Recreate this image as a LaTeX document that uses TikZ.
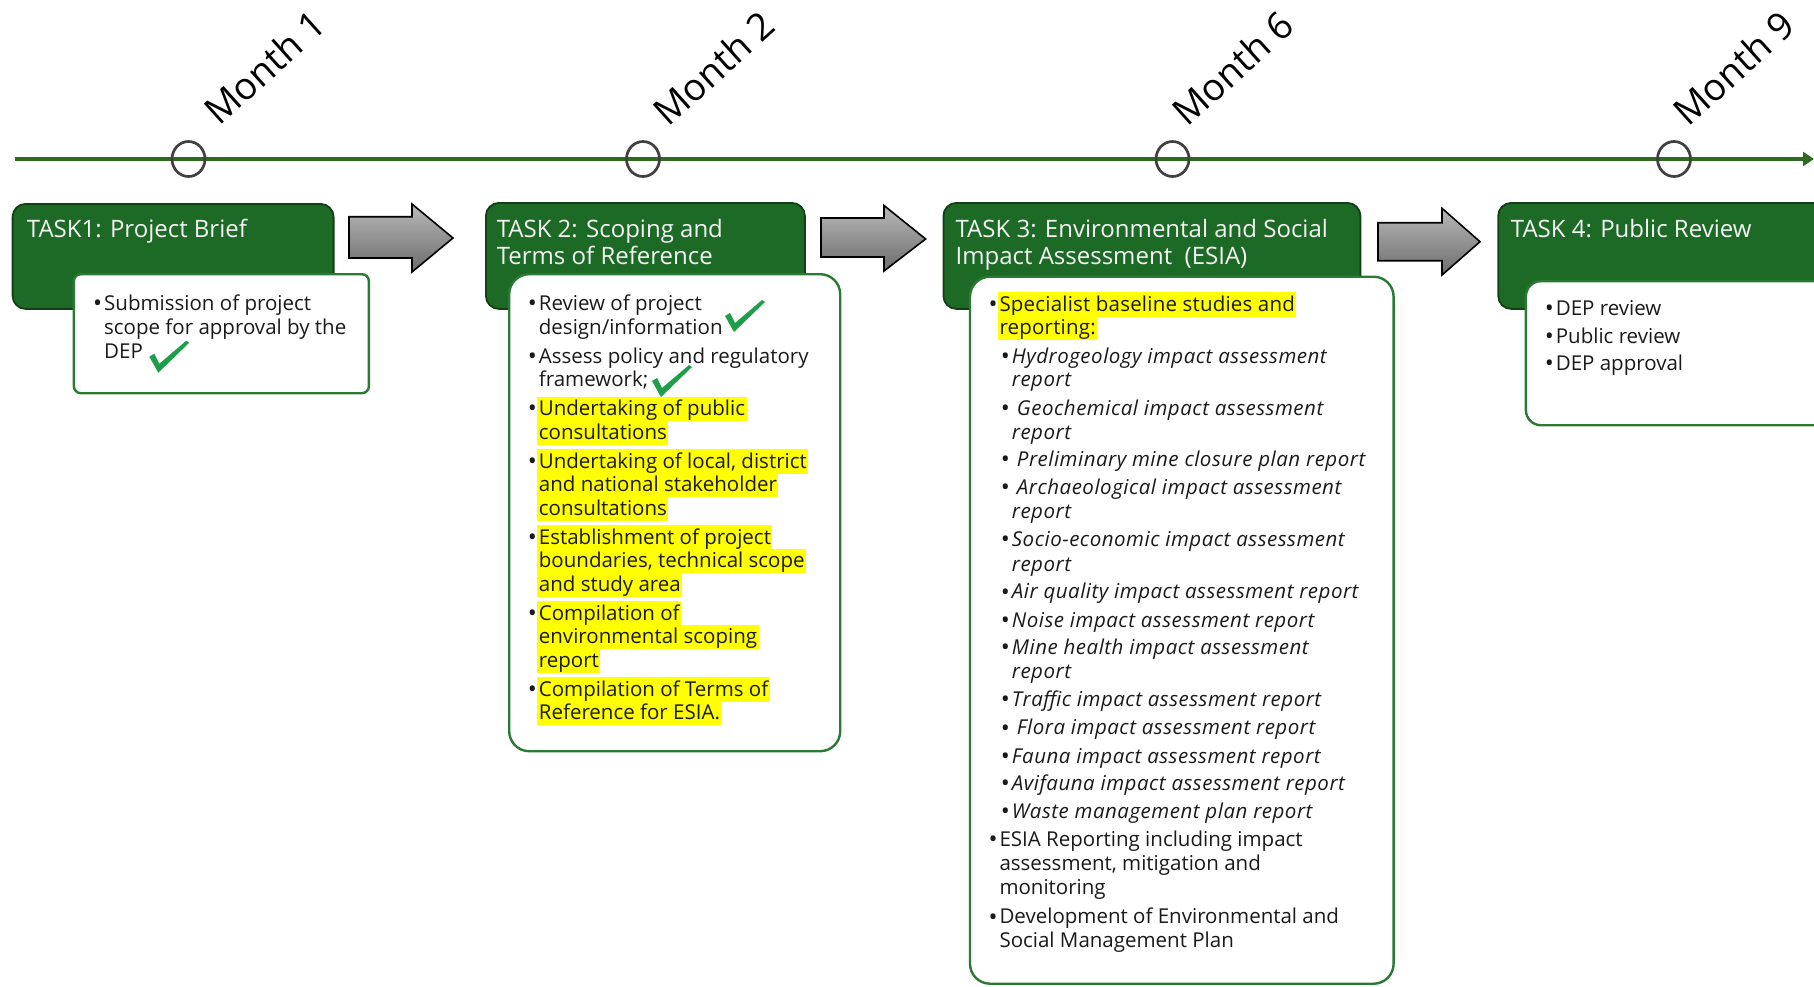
\documentclass[tikz,border=0pt]{standalone}
\usepackage{fontspec}
\setmainfont{Open Sans}
\usetikzlibrary{shapes.geometric,arrows.meta}
\definecolor{tlgreen}{HTML}{2E6A1F}
\definecolor{boxgreen}{HTML}{1D6A26}
\definecolor{boxedge}{HTML}{123F16}
\definecolor{wedge}{HTML}{2A7A33}
\definecolor{ckgreen}{HTML}{1E9E4A}
\definecolor{hly}{HTML}{FFFF00}
\definecolor{txtc}{HTML}{1A1A1A}
\definecolor{circc}{HTML}{404040}
\definecolor{titlec}{HTML}{F4F4F4}
\definecolor{arrtop}{HTML}{B8B8B8}
\definecolor{arrbot}{HTML}{6C6C6C}
\newcommand\CheckMark[2]{\fill[ckgreen,shift={(#1,#2)}] (0,0) -- (5,-3) -- (10,7) -- (37,-16) -- (40,-14) -- (9,16) -- cycle;}
\begin{document}
\begin{tikzpicture}[x=1pt,y=-1pt,
 body/.style={font=\fontsize{20.5}{24}\selectfont, text=txtc, inner sep=0pt, anchor=base west},
 bodyw/.style={body, font=\fontsize{20.5}{24}\selectfont\addfontfeatures{LetterSpace=1}},
 ibody/.style={body, font=\fontsize{20.5}{24}\selectfont\itshape\addfontfeatures{LetterSpace=2.5}},
 bul/.style={body, font=\fontsize{24}{24}\selectfont, yshift=-1.2pt},
 hl/.style={fill=hly, inner xsep=1.5pt, inner ysep=0pt, text height=19pt, text depth=5.5pt},
 title/.style={font=\fontsize{24}{28}\selectfont, text=titlec, inner sep=0pt, anchor=base west},
 month/.style={font=\fontsize{37.5}{40}\selectfont, text=black, inner sep=0pt, anchor=base west, rotate=42},
 mcirc/.style={ellipse, draw=circc, line width=2.7pt, minimum width=33pt, minimum height=35pt, inner sep=0pt},
 tlline/.style={draw=tlgreen, line width=3.2pt, -{Triangle[length=11pt,width=14pt]}},
 greenbox/.style={draw=boxedge, line width=1.8pt, fill=boxgreen, rounded corners=13pt, anchor=north west, inner sep=0pt},
 whitebox/.style={draw=wedge, line width=2.4pt, fill=white, rounded corners=#1, anchor=north west, inner sep=0pt},
 blockarrow/.style={draw=black, line width=1.6pt, top color=arrtop, bottom color=arrbot, line join=miter}
]
\path[use as bounding box] (0,0) rectangle (1814,986);
\clip (0,0) rectangle (1814,986);

% timeline
\coordinate (tlstart) at (15,159);
\coordinate (tlend) at (1814,159);
\draw[tlline] (tlstart) -- (tlend);
\node[mcirc] (c1) at (188.5,159) {};
\node[mcirc] (c2) at (643,159) {};
\node[mcirc] (c6) at (1172.5,159) {};
\node[mcirc] (c9) at (1674,159) {};
\node[month] (m1) at (219,127) {Month 1};
\node[month] (m2) at (668,128) {Month 2};
\node[month] (m6) at (1187.5,128) {Month 6};
\node[month] (m9) at (1688.5,128) {Month 9};

% green task boxes
\node[greenbox, minimum width=321pt, minimum height=105pt] (g1) at (11.7,203) {};
\node[greenbox, minimum width=319pt, minimum height=106pt] (g2) at (485,202) {};
\node[greenbox, minimum width=417pt, minimum height=106pt] (g3) at (942.5,202) {};
\node[greenbox, minimum width=340pt, minimum height=106pt] (g4) at (1497.3,202) {};

% titles
\node[title] (t1a) at (26.7,237.3) {TASK1: Project Brief};
\node[title] (t2a) at (496.6,237.3) {TASK 2: Scoping and};
\node[title] (t2b) at (496.6,264) {Terms of Reference};
\node[title] (t3a) at (955.4,237.3) {TASK 3: Environmental and Social};
\node[title] (t3b) at (955.4,264) {Impact Assessment\ \ (ESIA)};
\node[title] (t4a) at (1510.7,237.3) {TASK 4: Public Review};

% block arrows
\path[blockarrow] (349,216.7) -- (412,216.7) -- (412,204) -- (453,238) -- (412,272) -- (412,258) -- (349,258) -- cycle;
\path[blockarrow] (821,218) -- (884,218) -- (884,205.5) -- (925.6,239) -- (884,271) -- (884,257) -- (821,257) -- cycle;
\path[blockarrow] (1378,222.7) -- (1442,222.7) -- (1442,208.3) -- (1480,241.7) -- (1442,275) -- (1442,260.7) -- (1378,260.7) -- cycle;

% white content boxes
\node[whitebox=7pt, minimum width=295pt, minimum height=119pt] (w1) at (72.7,273) {};
\node[whitebox=20pt, minimum width=331pt, minimum height=477pt] (w2) at (508,273) {};
\node[whitebox=20pt, minimum width=423.6pt, minimum height=707pt] (w3) at (968.8,275.5) {};
\node[whitebox=15pt, minimum width=320pt, minimum height=144pt] (w4) at (1524.7,280) {};

% Task 1 content
\node[bul] (b11) at (93,310) {•};
\node[body] (l11) at (104,310) {Submission of project};
\node[body] (l12) at (104,334) {scope for approval by the};
\node[body] (l13) at (104,358) {DEP};
\CheckMark{149.3}{356.7}

% Task 2 content
\node[bul] (b21) at (527.7,310.7) {•};
\node[body] (l21) at (538.7,310.7) {Review of project};
\node[body] (l22) at (538.7,334.2) {design/information};
\node[bul] (b22) at (527.7,363.2) {•};
\node[body] (l23) at (538.7,363.2) {Assess policy and regulatory};
\node[body] (l24) at (538.7,386.7) {framework;};
\node[bul] (b23) at (527.7,415.7) {•};
\node[body,hl] (l25) at (537.2,415.7) {Undertaking of public};
\node[body,hl] (l26) at (537.2,439.2) {consultations};
\node[bul] (b24) at (527.7,468.2) {•};
\node[body,hl] (l27) at (537.2,468.2) {Undertaking of local, district};
\node[body,hl] (l28) at (537.2,491.7) {and national stakeholder};
\node[body,hl] (l29) at (537.2,515.2) {consultations};
\node[bul] (b25) at (527.7,544.2) {•};
\node[body,hl] (l210) at (537.2,544.2) {Establishment of project};
\node[body,hl] (l211) at (537.2,567.7) {boundaries, technical scope};
\node[body,hl] (l212) at (537.2,591.2) {and study area};
\node[bul] (b26) at (527.7,620.2) {•};
\node[body,hl] (l213) at (537.2,620.2) {Compilation of\ };
\node[body,hl] (l214) at (537.2,643.7) {environmental scoping};
\node[body,hl] (l215) at (537.2,667.2) {report};
\node[bul] (b27) at (527.7,696.2) {•};
\node[body,hl] (l216) at (537.2,696.2) {Compilation of Terms of};
\node[body,hl] (l217) at (537.2,719.7) {Reference for ESIA.};
\CheckMark{725}{316}
\CheckMark{652}{381}

% Task 3 content
\node[bul] (b31) at (988.3,311) {•};
\node[bodyw,hl] (l31) at (997.8,311) {Specialist baseline studies and};
\node[bodyw,hl] (l32) at (997.8,334) {reporting:};
\node[bul] (s31) at (1000.7,363.6) {•};
\node[ibody] (l33) at (1011.7,363.6) {Hydrogeology impact assessment};
\node[ibody] (l34) at (1011.7,386.4) {report};
\node[bul] (s32) at (1000.7,415.2) {•};
\node[ibody] (l35) at (1016.7,415.2) {Geochemical impact assessment};
\node[ibody] (l36) at (1011.7,439) {report};
\node[bul] (s33) at (1000.7,466.3) {•};
\node[ibody] (l37) at (1016.7,466.3) {Preliminary mine closure plan report};
\node[bul] (s34) at (1000.7,494.7) {•};
\node[ibody] (l38) at (1016.7,494.7) {Archaeological impact assessment};
\node[ibody] (l39) at (1011.7,518.9) {report};
\node[bul] (s35) at (1000.7,546.3) {•};
\node[ibody] (l310) at (1011.7,546.3) {Socio-economic impact assessment};
\node[ibody] (l311) at (1011.7,571.4) {report};
\node[bul] (s36) at (1000.7,598.8) {•};
\node[ibody] (l312) at (1011.7,598.8) {Air quality impact assessment report};
\node[bul] (s37) at (1000.7,627) {•};
\node[ibody] (l313) at (1011.7,627) {Noise impact assessment report};
\node[bul] (s38) at (1000.7,654.5) {•};
\node[ibody] (l314) at (1011.7,654.5) {Mine health impact assessment};
\node[ibody] (l315) at (1011.7,678.7) {report};
\node[bul] (s39) at (1000.7,706) {•};
\node[ibody] (l316) at (1011.7,706) {Traffic impact assessment report};
\node[bul] (s310) at (1000.7,734.8) {•};
\node[ibody] (l317) at (1016.7,734.8) {Flora impact assessment report};
\node[bul] (s311) at (1000.7,763.2) {•};
\node[ibody] (l318) at (1011.7,763.2) {Fauna impact assessment report};
\node[bul] (s312) at (1000.7,790.5) {•};
\node[ibody] (l319) at (1011.7,790.5) {Avifauna impact assessment report};
\node[bul] (s313) at (1000.7,818) {•};
\node[ibody] (l320) at (1011.7,818) {Waste management plan report};
\node[bul] (b32) at (988.3,846.3) {•};
\node[body] (l321) at (999.3,846.3) {ESIA Reporting including impact};
\node[body] (l322) at (999.3,870.5) {assessment, mitigation and};
\node[body] (l323) at (999.3,894.7) {monitoring};
\node[bul] (b33) at (988.3,923.9) {•};
\node[body] (l324) at (999.3,923.9) {Development of Environmental and};
\node[body] (l325) at (999.3,947.2) {Social Management Plan};

% Task 4 content
\node[bul] (b41) at (1544.6,315) {•};
\node[body] (l41) at (1555.6,315) {DEP review};
\node[bul] (b42) at (1544.6,343.3) {•};
\node[body] (l42) at (1555.6,343.3) {Public review};
\node[bul] (b43) at (1544.6,370.7) {•};
\node[body] (l43) at (1555.6,370.7) {DEP approval};
\end{tikzpicture}
\end{document}
